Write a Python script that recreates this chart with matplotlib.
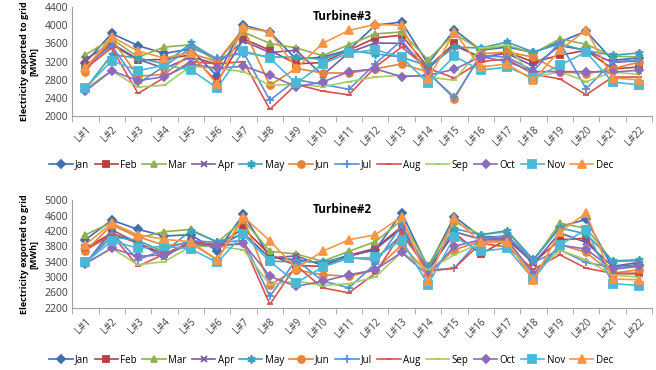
import matplotlib
matplotlib.use("Agg")
import matplotlib.pyplot as plt
import numpy as np

plt.rcParams['font.family'] = ['Open Sans', 'DejaVu Sans']

# Categories and months
cats = ['L#%d' % i for i in range(1, 23)]
months = ['Jan', 'Feb', 'Mar', 'Apr', 'May', 'Jun', 'Jul', 'Aug', 'Sep', 'Oct', 'Nov', 'Dec']

# Turbine#3 (MWh)
t3_jan = [3180, 3820, 3550, 3380, 3480, 2880, 4000, 3850, 3250, 3300, 3460, 4000, 4070, 3150, 3900, 3450, 3520, 3400, 3630, 3870, 3230, 3280]
t3_feb = [3100, 3580, 3230, 3250, 3350, 2750, 3700, 3450, 3150, 3180, 3450, 3720, 3780, 3080, 3600, 3260, 3410, 3190, 3340, 3450, 3040, 3080]
t3_mar = [3350, 3700, 3300, 3520, 3570, 3200, 3850, 3600, 3500, 3330, 3570, 3810, 3850, 3240, 3810, 3460, 3560, 3380, 3700, 3580, 3320, 3300]
t3_apr = [3250, 3600, 3250, 3050, 3300, 3150, 3650, 3400, 3450, 2900, 3400, 3610, 3600, 3050, 3550, 3300, 3380, 3100, 3550, 3450, 3180, 3220]
t3_may = [2600, 3350, 3280, 3150, 3600, 3250, 3400, 3300, 3300, 3250, 3450, 3370, 3300, 3100, 3520, 3500, 3630, 3410, 3590, 3440, 3340, 3390]
t3_jun = [2980, 3700, 2880, 2920, 3380, 3200, 3930, 2680, 3050, 2950, 2950, 3040, 3150, 2970, 2380, 3370, 3410, 3300, 2980, 2930, 3040, 3190]
t3_jul = [3100, 3550, 2720, 3100, 3500, 3280, 3400, 2350, 2800, 2700, 2590, 3150, 3670, 2950, 2420, 3330, 3300, 3000, 3620, 2600, 3200, 3230]
t3_aug = [3050, 3500, 2500, 2850, 3200, 3150, 3200, 2150, 2700, 2550, 2470, 3080, 3520, 3050, 2840, 3200, 3260, 2920, 2820, 2470, 2860, 2860]
t3_sep = [2600, 3000, 2640, 2680, 3100, 3050, 2980, 2680, 2700, 2650, 2760, 2860, 2900, 2860, 2790, 3500, 3560, 2850, 2980, 2760, 2970, 2920]
t3_oct = [2550, 3000, 2780, 2870, 3150, 3050, 3100, 2900, 2650, 2750, 2980, 3040, 2870, 2900, 3030, 3310, 3200, 2980, 2980, 2980, 2970, 3010]
t3_nov = [2620, 3220, 3000, 3120, 3020, 2620, 3430, 3280, 2720, 3150, 3390, 3460, 3300, 2730, 3320, 3010, 3080, 2840, 3120, 3410, 2750, 2690]
t3_dec = [3050, 3750, 3430, 3280, 3400, 2700, 3950, 3850, 3050, 3600, 3886, 4020, 4000, 2810, 3850, 3080, 3150, 2790, 3450, 3900, 2840, 2800]

# Turbine#2 (MWh)
t2_jan = [3970, 4480, 4240, 4070, 4100, 3680, 4630, 3520, 3450, 3360, 3570, 3700, 4670, 3250, 4570, 4050, 4050, 3450, 4310, 4500, 3260, 3320]
t2_feb = [3750, 4140, 3880, 3600, 3900, 3820, 4270, 3580, 3300, 3280, 3560, 3750, 4310, 3190, 4140, 3600, 3980, 3380, 3970, 4010, 3090, 3100]
t2_mar = [4100, 4420, 4020, 4180, 4240, 3900, 4480, 3670, 3600, 3410, 3670, 3920, 4480, 3290, 4440, 4100, 4180, 3420, 4400, 4270, 3410, 3420]
t2_apr = [3330, 4230, 3880, 3520, 3950, 3800, 4140, 3500, 3550, 3300, 3540, 3720, 4270, 3150, 4180, 3980, 4010, 3350, 4150, 3900, 3280, 3380]
t2_may = [3380, 4050, 3950, 3650, 4210, 3920, 4110, 3410, 3400, 3400, 3500, 3450, 4100, 3250, 4260, 4100, 4210, 3450, 4280, 4120, 3420, 3450]
t2_jun = [3680, 4350, 4050, 3820, 3880, 3450, 4520, 2800, 3190, 3060, 3020, 3180, 3840, 3100, 3710, 3930, 3950, 2950, 3850, 3640, 3100, 3190]
t2_jul = [3350, 4150, 3450, 3720, 3950, 3900, 3950, 2500, 3450, 2900, 2720, 3350, 4350, 3180, 3230, 4000, 4080, 3380, 3710, 3380, 3250, 3300]
t2_aug = [3700, 4100, 3280, 3600, 3900, 3850, 3850, 2290, 3300, 2720, 2590, 3100, 4160, 3150, 3230, 3880, 3780, 3200, 3580, 3230, 3100, 3080]
t2_sep = [3350, 3750, 3320, 3400, 3800, 3800, 3710, 2800, 2900, 2780, 2830, 3000, 3650, 3180, 3580, 3880, 3920, 3050, 3700, 3450, 3050, 3000]
t2_oct = [3350, 3750, 3540, 3580, 3850, 3800, 3880, 3020, 2760, 2890, 3060, 3190, 3640, 3050, 3800, 3970, 3980, 3080, 3830, 3730, 3200, 3280]
t2_nov = [3380, 3940, 3750, 3800, 3730, 3380, 4110, 3410, 2850, 3260, 3490, 3510, 3970, 2800, 4040, 3670, 3750, 2950, 3840, 4230, 2830, 2780]
t2_dec = [3840, 4400, 4100, 3980, 3920, 3450, 4570, 3940, 3230, 3670, 3970, 4100, 4570, 2890, 4530, 3900, 3920, 2920, 4180, 4660, 2950, 2930]

t3 = [t3_jan, t3_feb, t3_mar, t3_apr, t3_may, t3_jun, t3_jul, t3_aug, t3_sep, t3_oct, t3_nov, t3_dec]
t2 = [t2_jan, t2_feb, t2_mar, t2_apr, t2_may, t2_jun, t2_jul, t2_aug, t2_sep, t2_oct, t2_nov, t2_dec]

colors = ['#3F6EB0', '#B7413E', '#8FB24F', '#7A5A9E', '#3FA1BC', '#E5843A',
          '#5B8FD6', '#D9534F', '#A6CC6A', '#8C6BB8', '#4BB8D6', '#F79646']
markers = ['D', 's', '^', 'x', (6, 2, 0), 'o', '+', '_', '_', 'D', 's', '^']
msizes = [4, 5, 5, 5, 6, 5, 6, 4, 5, 4, 6, 6]

fig = plt.figure(figsize=(6.56, 3.70), dpi=100)


# Draw one turbine panel with its legend.
def panel(rect, data, title, yticks, leg_y):
    ax = fig.add_axes(rect)
    x = np.arange(len(cats))
    for i, m in enumerate(months):
        ax.plot(x, data[i], color=colors[i], marker=markers[i], markersize=msizes[i],
                markeredgewidth=1.3, linewidth=1.2, label=m)
    ax.set_xlim(-0.5, len(cats) - 0.5)
    ax.set_ylim(yticks[0], yticks[-1])
    ax.set_yticks(yticks)
    ax.set_xticks(x)
    ax.set_xticklabels(cats, rotation=45, ha='right', rotation_mode='anchor')
    ax.set_xticks(np.arange(-0.5, len(cats), 1.0), minor=True)
    ax.tick_params(axis='x', which='major', length=0, labelsize=7, colors='#404040', pad=6)
    ax.tick_params(axis='x', which='minor', length=4, color='#a0a0a0')
    ax.tick_params(axis='y', length=0, labelsize=7.5, colors='#404040', pad=3)
    for s in ['top', 'right']:
        ax.spines[s].set_visible(False)
    for s in ['left', 'bottom']:
        ax.spines[s].set_color('#a0a0a0')
    ax.text(0.465, 0.97, title, transform=ax.transAxes, ha='center', va='top',
            fontsize=8.5, fontweight='bold')
    ax.set_ylabel('Electricity exported to grid\n[MWh]', fontsize=6.5, fontweight='bold',
                  labelpad=4, linespacing=1.1)
    ax.legend(loc='center', bbox_to_anchor=(0.505, leg_y), bbox_transform=fig.transFigure,
              ncol=12, frameon=False, fontsize=7, handlelength=2.4, columnspacing=0.55,
              handletextpad=0.25, borderpad=0.1)
    return ax


panel([0.110, 0.686, 0.884, 0.295], t3, 'Turbine#3', list(range(2000, 4401, 400)), 0.554)
panel([0.110, 0.168, 0.884, 0.291], t2, 'Turbine#2', list(range(2200, 5001, 400)), 0.027)

fig.savefig('out.png', dpi=100)
